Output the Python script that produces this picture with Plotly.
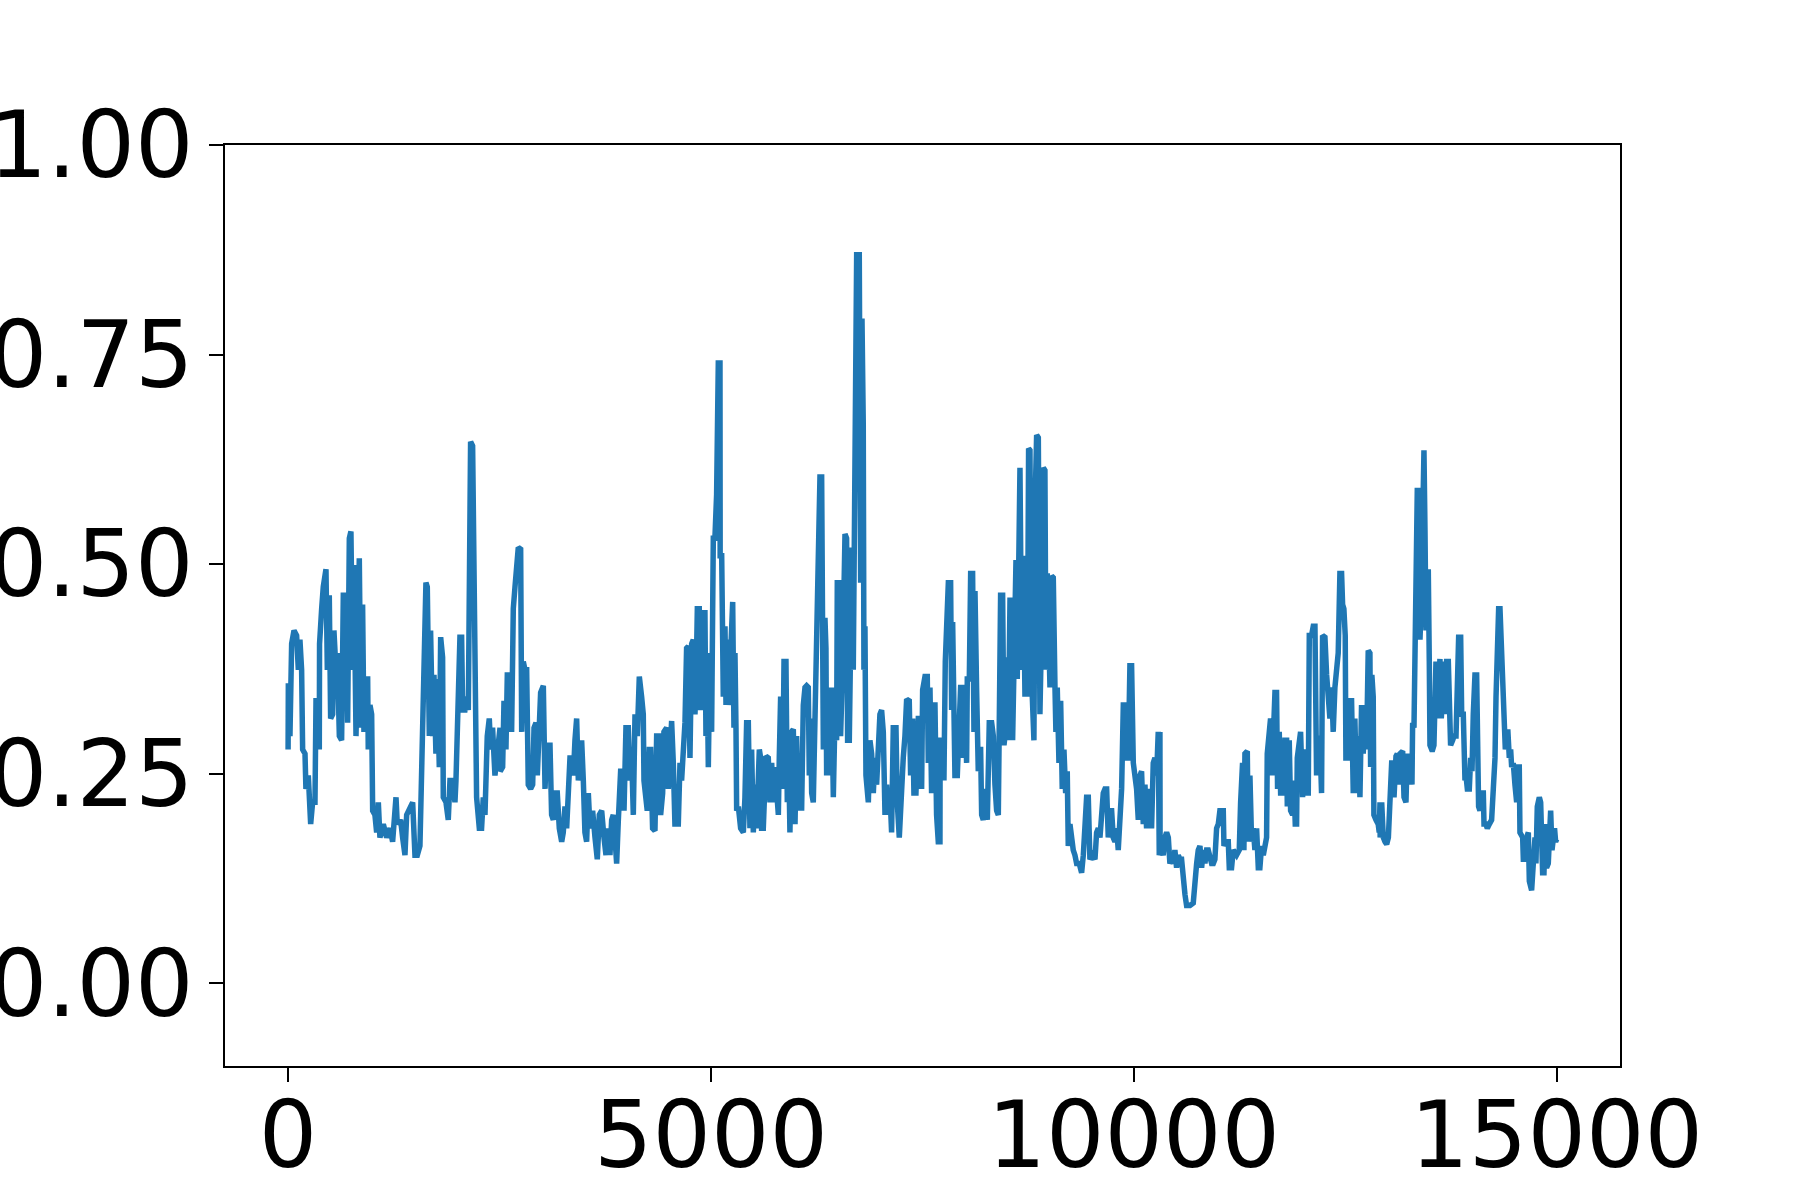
import plotly.graph_objects as go

# Series, split into six consecutive stretches
step_a = [0, 3, 22, 42, 70, 101, 121, 140, 160, 172, 200, 211, 239, 267, 290, 318, 330, 345, 369, 372,
          397, 416, 448, 464, 487, 503, 527, 542, 566, 582, 606, 633, 653, 684, 704, 724, 743, 763, 779, 803,
          818, 842, 862, 881, 897, 921, 941, 948, 968, 988, 1000, 1027, 1047, 1067, 1086, 1126, 1165, 1205, 1236, 1276,
          1291, 1331, 1354, 1382, 1402, 1441, 1473, 1500, 1528, 1559, 1579, 1599, 1630, 1646, 1670, 1685, 1709, 1725, 1748, 1764,
          1788, 1804, 1827, 1835, 1867, 1894, 1914, 1946, 1973, 1985, 2012, 2032, 2052, 2064, 2091, 2111, 2131, 2143, 2158, 2182,
          2202, 2210, 2229, 2261, 2288, 2308, 2328, 2355, 2379, 2395, 2418, 2446, 2474, 2497]
val_a = [0.279, 0.358, 0.295, 0.405, 0.421, 0.415, 0.374, 0.410, 0.374, 0.279, 0.274, 0.232, 0.248, 0.190, 0.216, 0.216, 0.337, 0.337, 0.279, 0.405,
         0.447, 0.473, 0.494, 0.374, 0.463, 0.316, 0.321, 0.421, 0.374, 0.394, 0.295, 0.290, 0.463, 0.463, 0.311, 0.531, 0.539, 0.374, 0.499, 0.295,
         0.374, 0.507, 0.305, 0.452, 0.300, 0.363, 0.363, 0.279, 0.332, 0.321, 0.206, 0.201, 0.180, 0.216, 0.174, 0.190, 0.174, 0.185, 0.169, 0.222,
         0.190, 0.195, 0.174, 0.153, 0.201, 0.211, 0.216, 0.153, 0.153, 0.164, 0.242, 0.305, 0.478, 0.473, 0.295, 0.421, 0.295, 0.368, 0.274, 0.363,
         0.258, 0.413, 0.389, 0.222, 0.216, 0.195, 0.242, 0.242, 0.216, 0.242, 0.326, 0.413, 0.413, 0.326, 0.326, 0.342, 0.326, 0.552, 0.646, 0.641,
         0.421, 0.295, 0.222, 0.185, 0.185, 0.222, 0.201, 0.295, 0.316, 0.279, 0.305, 0.248, 0.284, 0.305]

step_b = [2506, 2508, 2537, 2553, 2576, 2592, 2624, 2643, 2663, 2683, 2703, 2722, 2750, 2762, 2781, 2801, 2821, 2840, 2868, 2892,
          2908, 2931, 2947, 2971, 2986, 3018, 3038, 3057, 3097, 3116, 3136, 3156, 3183, 3207, 3235, 3254, 3274, 3294, 3313, 3333,
          3353, 3373, 3392, 3412, 3432, 3471, 3491, 3510, 3530, 3550, 3570, 3601, 3629, 3656, 3680, 3708, 3735, 3759, 3786, 3806,
          3826, 3845, 3865, 3885, 3905, 3932, 3956, 3972, 3995, 4023, 4042, 4062, 4082, 4102, 4129, 4153, 4180, 4200, 4208, 4232,
          4247, 4271, 4287, 4310, 4338, 4358, 4389, 4405, 4429, 4444, 4476, 4496, 4515, 4535, 4555, 4574, 4614, 4634, 4653, 4673,
          4693, 4712, 4732, 4752, 4772, 4791, 4811, 4823, 4839, 4862, 4878, 4890, 4910, 4929, 4941, 4957, 4969, 4988, 5008, 5020,
          5028, 5047, 5067, 5087, 5099]
val_b = [0.305, 0.253, 0.258, 0.337, 0.279, 0.368, 0.368, 0.300, 0.447, 0.473, 0.510, 0.520, 0.518, 0.300, 0.384, 0.374, 0.374, 0.237, 0.232, 0.237,
         0.305, 0.311, 0.248, 0.342, 0.347, 0.355, 0.232, 0.284, 0.284, 0.201, 0.195, 0.227, 0.227, 0.185, 0.169, 0.180, 0.211, 0.185, 0.248, 0.269,
         0.269, 0.248, 0.290, 0.316, 0.242, 0.290, 0.242, 0.180, 0.169, 0.227, 0.185, 0.206, 0.174, 0.148, 0.201, 0.206, 0.174, 0.153, 0.185, 0.153,
         0.195, 0.201, 0.174, 0.143, 0.195, 0.253, 0.253, 0.206, 0.305, 0.305, 0.242, 0.274, 0.201, 0.321, 0.295, 0.366, 0.342, 0.321, 0.242, 0.216,
         0.206, 0.279, 0.279, 0.185, 0.182, 0.295, 0.295, 0.201, 0.227, 0.300, 0.305, 0.232, 0.295, 0.313, 0.263, 0.190, 0.190, 0.263, 0.242, 0.269,
         0.311, 0.400, 0.402, 0.269, 0.405, 0.410, 0.321, 0.353, 0.447, 0.447, 0.326, 0.368, 0.442, 0.442, 0.295, 0.358, 0.258, 0.394, 0.300, 0.442,
         0.531, 0.531, 0.583, 0.740, 0.740]

step_c = [5107, 5109, 5127, 5146, 5166, 5178, 5194, 5209, 5225, 5245, 5257, 5272, 5284, 5296, 5304, 5324, 5351, 5383, 5402, 5422,
          5442, 5461, 5481, 5501, 5521, 5540, 5560, 5572, 5588, 5599, 5619, 5651, 5678, 5698, 5718, 5737, 5757, 5777, 5797, 5808,
          5824, 5848, 5864, 5887, 5903, 5915, 5934, 5954, 5974, 5994, 6013, 6033, 6053, 6072, 6092, 6112, 6131, 6151, 6163, 6179,
          6191, 6210, 6230, 6242, 6258, 6269, 6289, 6309, 6329, 6348, 6360, 6368, 6388, 6407, 6427, 6447, 6466, 6486, 6494, 6518,
          6533, 6557, 6585, 6604, 6616, 6636, 6652, 6667, 6683, 6703, 6723, 6754, 6770, 6786, 6801, 6809, 6821, 6833, 6861, 6880,
          6900, 6920, 6939, 6959, 6979, 6998, 7018, 7038, 7058, 7077, 7097, 7117, 7136, 7156, 7188, 7203, 7227, 7255, 7274, 7294,
          7314, 7345, 7361, 7385, 7400, 7424, 7452, 7471, 7491, 7503, 7531, 7558, 7570, 7590, 7609, 7629, 7649, 7668, 7688]
val_c = [0.740, 0.510, 0.510, 0.342, 0.426, 0.332, 0.410, 0.332, 0.374, 0.452, 0.455, 0.305, 0.394, 0.305, 0.206, 0.211, 0.185, 0.180, 0.222, 0.311,
         0.311, 0.185, 0.279, 0.180, 0.237, 0.185, 0.237, 0.279, 0.269, 0.185, 0.185, 0.271, 0.269, 0.216, 0.263, 0.216, 0.258, 0.216, 0.201, 0.269,
         0.342, 0.232, 0.384, 0.384, 0.216, 0.295, 0.180, 0.300, 0.303, 0.190, 0.295, 0.206, 0.258, 0.206, 0.332, 0.353, 0.355, 0.353, 0.248, 0.316,
         0.227, 0.216, 0.300, 0.368, 0.442, 0.531, 0.604, 0.604, 0.279, 0.436, 0.400, 0.248, 0.353, 0.248, 0.353, 0.222, 0.316, 0.290, 0.478, 0.478,
         0.295, 0.379, 0.536, 0.531, 0.290, 0.290, 0.520, 0.520, 0.374, 0.756, 0.869, 0.869, 0.478, 0.793, 0.667, 0.374, 0.426, 0.248, 0.216, 0.290,
         0.274, 0.227, 0.269, 0.237, 0.305, 0.321, 0.326, 0.300, 0.201, 0.237, 0.201, 0.227, 0.180, 0.305, 0.305, 0.216, 0.174, 0.258, 0.269, 0.295,
         0.339, 0.337, 0.248, 0.316, 0.227, 0.227, 0.316, 0.316, 0.232, 0.350, 0.366, 0.366, 0.263, 0.353, 0.227, 0.332, 0.332, 0.201, 0.169]

step_d = [7708, 7710, 7740, 7755, 7771, 7787, 7807, 7834, 7846, 7858, 7874, 7885, 7913, 7937, 7952, 7976, 7984, 8004, 8023, 8031,
          8055, 8071, 8094, 8110, 8122, 8142, 8161, 8173, 8189, 8201, 8220, 8240, 8252, 8268, 8279, 8291, 8319, 8339, 8358, 8378,
          8398, 8410, 8425, 8449, 8465, 8477, 8496, 8516, 8536, 8555, 8567, 8583, 8607, 8622, 8638, 8654, 8674, 8693, 8713, 8725,
          8741, 8756, 8772, 8788, 8804, 8819, 8835, 8851, 8871, 8882, 8890, 8910, 8930, 8949, 8961, 8977, 8993, 9009, 9028, 9048,
          9068, 9079, 9095, 9115, 9135, 9154, 9174, 9194, 9213, 9225, 9245, 9265, 9284, 9304, 9324, 9355, 9383, 9403, 9422, 9442,
          9462, 9481, 9513, 9541, 9560, 9580, 9600, 9619, 9639, 9659, 9679, 9698, 9718, 9738, 9757, 9777, 9797, 9816, 9836, 9856,
          9876, 9895, 9915, 9935, 9954, 9974, 9994, 10014, 10033, 10053, 10073, 10092, 10112, 10132, 10151, 10171, 10191, 10210, 10230, 10250,
          10270, 10289, 10301]
val_d = [0.169, 0.290, 0.290, 0.242, 0.384, 0.452, 0.478, 0.478, 0.326, 0.431, 0.358, 0.248, 0.248, 0.321, 0.353, 0.353, 0.269, 0.337, 0.263, 0.363,
         0.363, 0.489, 0.489, 0.300, 0.468, 0.347, 0.253, 0.279, 0.279, 0.201, 0.195, 0.216, 0.232, 0.195, 0.232, 0.311, 0.311, 0.295, 0.237, 0.206,
         0.201, 0.379, 0.463, 0.463, 0.284, 0.295, 0.389, 0.290, 0.457, 0.457, 0.290, 0.358, 0.505, 0.363, 0.615, 0.615, 0.374, 0.510, 0.342, 0.494,
         0.342, 0.638, 0.636, 0.374, 0.290, 0.290, 0.583, 0.654, 0.651, 0.426, 0.321, 0.426, 0.615, 0.612, 0.374, 0.489, 0.353, 0.353, 0.486, 0.484,
         0.353, 0.300, 0.353, 0.263, 0.337, 0.232, 0.279, 0.227, 0.253, 0.164, 0.190, 0.169, 0.159, 0.153, 0.143, 0.143, 0.132, 0.153, 0.180, 0.222,
         0.222, 0.148, 0.153, 0.148, 0.180, 0.185, 0.174, 0.201, 0.227, 0.232, 0.232, 0.174, 0.206, 0.206, 0.174, 0.169, 0.185, 0.159, 0.185, 0.232,
         0.332, 0.332, 0.269, 0.269, 0.379, 0.379, 0.263, 0.248, 0.232, 0.195, 0.248, 0.253, 0.190, 0.237, 0.185, 0.232, 0.216, 0.185, 0.263, 0.269,
         0.248, 0.300, 0.153]

step_e = [10309, 10311, 10329, 10348, 10368, 10388, 10408, 10427, 10447, 10467, 10486, 10506, 10526, 10545, 10565, 10585, 10605, 10624, 10664, 10703,
          10723, 10743, 10762, 10782, 10802, 10821, 10841, 10861, 10880, 10900, 10920, 10940, 10959, 10979, 10999, 11018, 11058, 11066, 11089, 11117,
          11129, 11156, 11176, 11215, 11247, 11263, 11286, 11302, 11314, 11342, 11353, 11373, 11393, 11412, 11432, 11452, 11472, 11491, 11511, 11531,
          11550, 11570, 11578, 11602, 11617, 11633, 11649, 11669, 11688, 11700, 11720, 11736, 11767, 11787, 11807, 11815, 11838, 11854, 11878, 11893,
          11909, 11925, 11933, 11956, 11972, 11996, 12012, 12023, 12043, 12063, 12075, 12102, 12122, 12142, 12161, 12181, 12201, 12220, 12232, 12260,
          12280, 12299, 12319, 12339, 12358, 12378, 12398, 12417, 12437, 12457, 12469, 12484, 12500, 12508, 12536, 12555, 12575, 12595, 12614, 12634,
          12654, 12674, 12693, 12713, 12733, 12752, 12772, 12792, 12800, 12815, 12831, 12839, 12863, 12890, 12902]
val_e = [0.300, 0.153, 0.159, 0.153, 0.174, 0.180, 0.174, 0.143, 0.148, 0.143, 0.159, 0.138, 0.153, 0.148, 0.148, 0.122, 0.106, 0.093, 0.093, 0.096,
         0.127, 0.143, 0.159, 0.164, 0.138, 0.159, 0.143, 0.159, 0.159, 0.153, 0.143, 0.143, 0.148, 0.185, 0.190, 0.206, 0.206, 0.164, 0.169, 0.169,
         0.138, 0.138, 0.159, 0.153, 0.159, 0.216, 0.263, 0.159, 0.274, 0.277, 0.169, 0.248, 0.169, 0.185, 0.159, 0.185, 0.138, 0.138, 0.164, 0.153,
         0.164, 0.174, 0.274, 0.311, 0.316, 0.248, 0.316, 0.347, 0.347, 0.232, 0.300, 0.227, 0.227, 0.290, 0.290, 0.211, 0.290, 0.206, 0.201, 0.242,
         0.190, 0.190, 0.269, 0.300, 0.300, 0.222, 0.279, 0.274, 0.227, 0.227, 0.415, 0.415, 0.426, 0.426, 0.248, 0.295, 0.290, 0.227, 0.415, 0.413,
         0.368, 0.332, 0.316, 0.353, 0.300, 0.353, 0.374, 0.394, 0.489, 0.489, 0.452, 0.447, 0.415, 0.269, 0.269, 0.337, 0.337, 0.227, 0.316, 0.227,
         0.295, 0.222, 0.332, 0.274, 0.332, 0.279, 0.397, 0.394, 0.258, 0.368, 0.342, 0.201, 0.195, 0.190, 0.180]

step_f = [12911, 12913, 12931, 12950, 12970, 12990, 13010, 13021, 13037, 13049, 13069, 13077, 13100, 13116, 13128, 13147, 13179, 13195, 13218, 13234,
          13258, 13274, 13289, 13297, 13313, 13325, 13337, 13352, 13376, 13384, 13400, 13415, 13431, 13443, 13455, 13471, 13482, 13494, 13502, 13522,
          13534, 13549, 13561, 13573, 13589, 13605, 13620, 13636, 13652, 13668, 13683, 13699, 13719, 13731, 13746, 13770, 13786, 13810, 13825, 13841,
          13865, 13877, 13896, 13916, 13928, 13944, 13967, 13983, 13999, 14014, 14034, 14054, 14062, 14077, 14093, 14113, 14133, 14141, 14164, 14180,
          14204, 14231, 14251, 14271, 14283, 14298, 14314, 14330, 14350, 14361, 14377, 14393, 14409, 14424, 14440, 14456, 14468, 14487, 14507, 14527,
          14547, 14558, 14566, 14586, 14598, 14606, 14625, 14645, 14665, 14677, 14704, 14724, 14744, 14755, 14771, 14795, 14811, 14834, 14850, 14866,
          14881, 14901, 14913, 14929, 14945, 14960, 14975, 14988, 15000]
val_f = [0.216, 0.174, 0.216, 0.174, 0.169, 0.166, 0.174, 0.206, 0.216, 0.263, 0.263, 0.222, 0.271, 0.274, 0.237, 0.274, 0.277, 0.222, 0.216, 0.274,
         0.242, 0.274, 0.237, 0.311, 0.305, 0.374, 0.463, 0.588, 0.588, 0.410, 0.457, 0.636, 0.636, 0.541, 0.421, 0.468, 0.494, 0.384, 0.284, 0.279,
         0.279, 0.284, 0.321, 0.384, 0.316, 0.387, 0.387, 0.316, 0.384, 0.384, 0.321, 0.384, 0.384, 0.290, 0.284, 0.290, 0.295, 0.295, 0.358, 0.413,
         0.413, 0.321, 0.321, 0.242, 0.248, 0.232, 0.232, 0.269, 0.253, 0.321, 0.368, 0.368, 0.253, 0.211, 0.206, 0.227, 0.227, 0.190, 0.190, 0.185,
         0.190, 0.195, 0.232, 0.269, 0.342, 0.405, 0.447, 0.447, 0.394, 0.332, 0.326, 0.279, 0.300, 0.300, 0.269, 0.279, 0.258, 0.263, 0.237, 0.216,
         0.258, 0.258, 0.180, 0.174, 0.174, 0.148, 0.148, 0.174, 0.180, 0.122, 0.111, 0.143, 0.174, 0.143, 0.211, 0.222, 0.216, 0.132, 0.132, 0.190,
         0.138, 0.143, 0.206, 0.206, 0.159, 0.185, 0.185, 0.169, 0.172]

x_ticks = [0, 5000, 10000, 15000]
y_ticks = [0.0, 0.25, 0.5, 0.75, 1.0]
y_tick_text = ["0.00", "0.25", "0.50", "0.75", "1.00"]

xs = step_a + step_b + step_c + step_d + step_e + step_f
ys = val_a + val_b + val_c + val_d + val_e + val_f

fig = go.Figure()
fig.add_trace(go.Scatter(x=xs, y=ys, mode="lines",
                         line=dict(color="#1f77b4", width=5.5),
                         hoverinfo="skip", showlegend=False))

axis_common = dict(
    showgrid=False, zeroline=False, automargin=False,
    showline=True, mirror=True, linecolor="black", linewidth=2,
    ticks="outside", ticklen=14, tickwidth=2, tickcolor="black",
    tickfont=dict(family="DejaVu Sans", size=92, color="black"),
)

fig.update_layout(
    width=1800, height=1200,
    paper_bgcolor="white", plot_bgcolor="white",
    margin=dict(l=225, r=180, t=145, b=134),
    xaxis=dict(range=[-746, 15749], tickvals=x_ticks, ticktext=[str(v) for v in x_ticks],
               ticklabelstandoff=-25, **axis_common),
    yaxis=dict(range=[-0.0985, 1.0], tickvals=y_ticks, ticktext=y_tick_text,
               ticklabelstandoff=-3, **axis_common),
)

fig.write_html("out.html", config={"displayModeBar": False},
               post_script="document.body.style.margin='0px';")
